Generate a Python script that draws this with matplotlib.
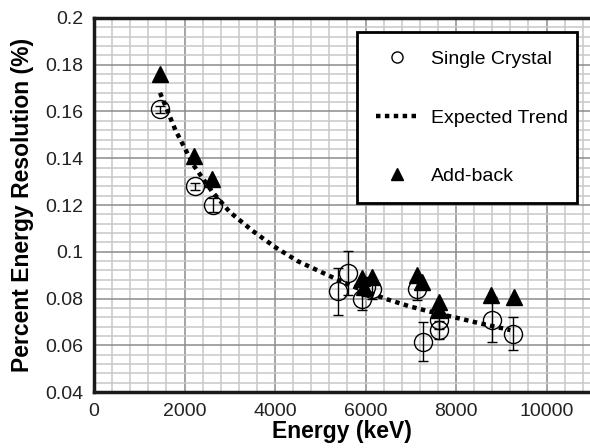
import matplotlib
matplotlib.use("Agg")
import matplotlib.pyplot as plt
from matplotlib.lines import Line2D
from matplotlib.patches import Rectangle
from matplotlib.ticker import MultipleLocator, FuncFormatter

plt.rcParams['font.family'] = ['Liberation Sans', 'DejaVu Sans']

# single crystal points (keV, %), with error bars
sc_energy = [1459, 2232, 2630, 5400, 5606, 5915, 6000, 6136, 7131, 7263, 7624, 7624, 8788, 9267]
sc_res = [0.161, 0.128, 0.120, 0.083, 0.091, 0.080, 0.085, 0.084, 0.084, 0.0615, 0.0665, 0.071, 0.071, 0.065]
sc_err = [0.0015, 0.0015, 0.003, 0.010, 0.0095, 0.005, 0.004, 0.004, 0.0045, 0.0083, 0.004, 0.004, 0.0095, 0.007]

# add-back points
ab_energy = [1459, 2210, 2614, 5915, 5960, 6136, 7131, 7242, 7624, 7624, 8767, 9282]
ab_res = [0.176, 0.141, 0.131, 0.0887, 0.085, 0.0893, 0.0901, 0.0872, 0.0787, 0.0751, 0.0815, 0.0808]

# expected trend
trend_energy = [1459, 1800, 2200, 2600, 3000, 3500, 4000, 4500, 5000, 5500, 6000, 6500, 7000, 7500, 8000, 8500, 9200]
trend_res = [0.168, 0.152, 0.137, 0.126, 0.117, 0.109, 0.102, 0.096, 0.0915, 0.087, 0.083, 0.0795,
             0.0765, 0.074, 0.0718, 0.0695, 0.0665]

fig = plt.figure(figsize=(5.9, 4.48), dpi=100)
ax = fig.add_axes([94 / 590, 56 / 448, 496 / 590, 374 / 448])

ax.set_xlim(0, 10960)
ax.set_ylim(0.04, 0.2)

ax.xaxis.set_major_locator(MultipleLocator(2000))
ax.xaxis.set_minor_locator(MultipleLocator(400))
ax.yaxis.set_major_locator(MultipleLocator(0.02))
ax.yaxis.set_minor_locator(MultipleLocator(0.004))
ax.yaxis.set_major_formatter(FuncFormatter(lambda v, p: '%g' % round(v, 3)))

ax.grid(which='minor', color='#c8c8c8', linewidth=1.1, zorder=0)
ax.grid(which='major', color='#8c8c8c', linewidth=1.1, zorder=0)
ax.set_axisbelow(True)
ax.tick_params(which='both', length=0, labelsize=14, pad=8, colors='#222222')

for side in ['left', 'bottom', 'top']:
    ax.spines[side].set_linewidth(2.5)
    ax.spines[side].set_color('#1a1a1a')
ax.spines['right'].set_visible(False)

ax.plot(trend_energy, trend_res, color='black', linewidth=3.2, linestyle=(0, (1, 1)), zorder=2)
ax.errorbar(sc_energy, sc_res, yerr=sc_err, fmt='o', mfc='none', mec='black', mew=1.0,
            ms=13, ecolor='black', elinewidth=1.0, capsize=3.5, zorder=3)
ax.plot(ab_energy, ab_res, '^', color='black', ms=12, zorder=4)

ax.set_xlabel('Energy (keV)', fontsize=16.5, fontweight='bold', labelpad=0)
ax.set_ylabel('Percent Energy Resolution (%)', fontsize=16.5, fontweight='bold', labelpad=8)

# legend box drawn separately so it can be sized like the original
box = Rectangle((0.530, 0.505), 0.444, 0.458, transform=ax.transAxes, facecolor='white',
                edgecolor='black', linewidth=2, zorder=5)
ax.add_patch(box)

handles = [
    Line2D([], [], marker='o', mfc='none', mec='black', ls='none', ms=8, mew=1.0),
    Line2D([], [], color='black', lw=3.2, ls=(0, (1, 1))),
    Line2D([], [], marker='^', color='black', ls='none', ms=9),
]
leg = ax.legend(handles, ['Single Crystal', 'Expected Trend', 'Add-back'],
                loc='center left', bbox_to_anchor=(0.569, 0.733), fontsize=14,
                frameon=False, labelspacing=2.1, handlelength=2.1, handletextpad=0.7,
                borderpad=0, borderaxespad=0)
leg.set_zorder(6)

fig.savefig('out.png', dpi=100)
